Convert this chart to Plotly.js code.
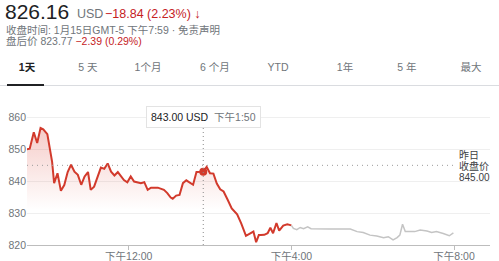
<!DOCTYPE html>
<html>
<head>
<meta charset="utf-8">
<script src="https://cdn.plot.ly/plotly-3.0.1.min.js"></script>
<style>
  html, body { margin:0; padding:0; background:#fff; }
  body { width:499px; height:261px; position:relative; overflow:hidden;
         font-family: "Liberation Sans", Arial, "Noto Sans CJK SC", sans-serif; }
  #chart { position:absolute; left:0; top:0; width:499px; height:261px; }
  .t { position:absolute; white-space:nowrap; line-height:1; }
  .g { color:#70757a; }
  .r { color:#c5221f; }
  .tab { position:absolute; width:60px; text-align:center; font-size:10.5px; line-height:1; color:#70757a; top:62px; }
  #pc { position:absolute; left:459px; top:149.5px; font-size:10px; line-height:11.3px; color:#3c4043; white-space:nowrap; }
</style>
</head>
<body>
<div id="chart"></div>

<div class="t" style="left:5px;top:0.5px;font-size:21px;color:#202124;">826.16</div>
<div class="t g" style="left:77px;top:8px;font-size:12.5px;">USD</div>
<div class="t r" style="left:105px;top:8px;font-size:12.5px;">−18.84 (2.23%) <b>↓</b></div>
<div class="t g" style="left:6px;top:24.5px;font-size:10.5px;">收盘时间: 1月15日GMT-5 下午7:59 · 免责声明</div>
<div class="t g" style="left:6px;top:35.5px;font-size:10.5px;">盘后价 823.77 <span class="r">−2.39 (0.29%)</span></div>

<div id="tabs"></div>
<div style="position:absolute;left:0;top:85px;width:499px;height:1px;background:#dadce0;"></div>
<div style="position:absolute;left:7px;top:83.5px;width:37px;height:2.5px;background:#202124;"></div>
<div id="pc"></div>

<script>
// ---- data ----
const day = '2019-01-15';
const tabLabels = ['1天', '5 天', '1个月', '6 个月', 'YTD', '1年', '5 年', '最大'];

const regularTimes = ['09:30','09:34','09:40','09:45','09:50','09:54','10:00','10:04','10:07','10:10',
  '10:15','10:20','10:25','10:30','10:35','10:40','10:45','10:50','10:55','11:00',
  '11:04','11:09','11:14','11:19','11:24','11:29','11:34','11:39','11:44','11:49',
  '11:53','11:58','12:03','12:08','12:13','12:18','12:23','12:28','12:33','12:38',
  '12:43','12:48','12:52','12:57','13:02','13:05','13:10','13:15','13:20','13:25',
  '13:30','13:35','13:40','13:44','13:50','13:55','14:00','14:05','14:10','14:15',
  '14:20','14:26','14:32','14:40','14:46','14:53','14:59','15:04','15:08','15:12',
  '15:15','15:20','15:25','15:29','15:33','15:38','15:42','15:48','15:54','16:00'];
const regularValues = [850.0,850.2,855.4,852.0,856.7,856.3,854.8,850.0,846.2,839.4,
  842.5,837.0,838.8,842.9,845.2,843.0,842.0,838.9,841.5,842.9,
  837.3,838.3,841.0,844.3,843.9,845.6,843.0,841.8,842.9,841.7,
  840.4,839.7,841.5,839.9,839.6,839.4,839.7,837.3,838.0,838.0,
  838.0,837.6,837.3,836.3,834.9,834.5,835.5,835.7,839.4,840.3,
  839.7,838.9,842.9,842.9,843.0,844.5,842.5,842.4,839.3,837.5,
  836.8,834.2,831.5,829.6,826.8,822.9,823.5,824.2,820.9,823.1,
  823.1,823.2,823.7,825.4,823.7,826.9,824.5,826.1,826.5,826.16];

const afterTimes = ['16:00','16:03','16:08','16:13','16:18','16:24','16:29','16:38','16:57','17:27',
  '17:37','17:46','17:56','18:06','18:16','18:23','18:30','18:36','18:40','18:44',
  '18:48','18:55','19:02','19:10','19:20','19:27','19:34','19:44','19:53','19:59'];
const afterValues = [826.16,825.2,824.8,825.5,825.1,825.7,825.1,825.0,825.0,825.0,
  824.2,823.9,823.1,822.8,822.3,822.6,821.6,822.3,823.1,826.5,
  824.2,824.2,824.2,824.7,824.4,823.9,824.2,823.6,822.9,823.77];

const prevClose = 845.00;
const hoverTime = '13:50';
const hoverValue = 843.00;

const yTicks = [820, 830, 840, 850, 860];
const xTickTimes = ['12:00', '16:00', '20:00'];
const xTickText = ['下午12:00', '下午4:00', '下午8:00'];
const prevCloseLines = ['昨日', '收盘价', prevClose.toFixed(2)];

// ---- tabs ----
const tabCenters = [27, 88, 148, 215, 278, 345, 407, 471];
const tabsEl = document.getElementById('tabs');
tabLabels.forEach((lab, i) => {
  const d = document.createElement('div');
  d.className = 'tab';
  d.style.left = (tabCenters[i] - 30) + 'px';
  d.textContent = lab;
  if (i === 0) { d.style.color = '#202124'; d.style.fontWeight = '600'; }
  tabsEl.appendChild(d);
});
document.getElementById('pc').innerHTML = prevCloseLines.join('<br>');

const ts = t => day + ' ' + t;
const red = '#d23a2c';
const font = '"Liberation Sans", Arial, "Noto Sans CJK SC", sans-serif';

const traces = [
  {
    x: regularTimes.map(ts), y: regularValues, type: 'scatter', mode: 'lines',
    line: { color: red, width: 2 },
    fill: 'tozeroy',
    fillgradient: { type: 'vertical', start: 831, stop: 857,
      colorscale: [[0, 'rgba(217,58,44,0)'], [1, 'rgba(217,58,44,0.26)']] },
    hoverinfo: 'skip'
  },
  {
    x: afterTimes.map(ts), y: afterValues, type: 'scatter', mode: 'lines',
    line: { color: '#c4c4c4', width: 1.5 }, hoverinfo: 'skip'
  },
  {
    x: [ts(hoverTime)], y: [hoverValue], type: 'scatter', mode: 'markers',
    marker: { color: red, size: 8 }, hoverinfo: 'skip'
  }
];

const annotations = [
  {
    xref: 'x', yref: 'paper', x: ts(hoverTime), y: 0.886, xanchor: 'center', yanchor: 'middle',
    text: hoverValue.toFixed(2) + ' USD  <span style="color:#70757a">下午1:50</span>',
    showarrow: false, bgcolor: '#ffffff', bordercolor: '#e3e3e3', borderwidth: 1, borderpad: 4,
    font: { family: font, size: 10.5, color: '#202124' }
  }
];

const layout = {
  width: 499, height: 261,
  margin: { l: 27, r: 9, t: 100, b: 16 },
  paper_bgcolor: 'rgba(0,0,0,0)', plot_bgcolor: 'rgba(0,0,0,0)',
  showlegend: false,
  font: { family: font, size: 11, color: '#70757a' },
  xaxis: {
    type: 'date', range: [ts('09:30'), ts('20:53')],
    tickvals: xTickTimes.map(ts), ticktext: xTickText,
    showgrid: false, zeroline: false,
    showline: true, linecolor: '#bdbdbd', linewidth: 1,
    ticks: 'outside', ticklen: 4, tickcolor: '#bdbdbd',
    ticklabelstandoff: -3,
    tickfont: { size: 10.5, color: '#70757a' }
  },
  yaxis: {
    range: [820, 865.5], tickvals: yTicks, ticktext: yTicks.map(String),
    showgrid: true, gridcolor: '#efefef', zeroline: false, showline: false,
    ticks: '', tickfont: { size: 10.5, color: '#70757a' }
  },
  shapes: [
    { type: 'line', xref: 'paper', yref: 'y', x0: 0, x1: 0.924, y0: prevClose, y1: prevClose,
      line: { color: '#9a9a9a', width: 1, dash: '1px,4px' } },
    { type: 'line', xref: 'x', yref: 'paper', x0: ts(hoverTime), x1: ts(hoverTime), y0: 0, y1: 0.81,
      line: { color: '#8a8a8a', width: 1, dash: '1px,3px' } }
  ],
  annotations: annotations
};

Plotly.newPlot('chart', traces, layout, { staticPlot: true, displayModeBar: false });
</script>
</body>
</html>
